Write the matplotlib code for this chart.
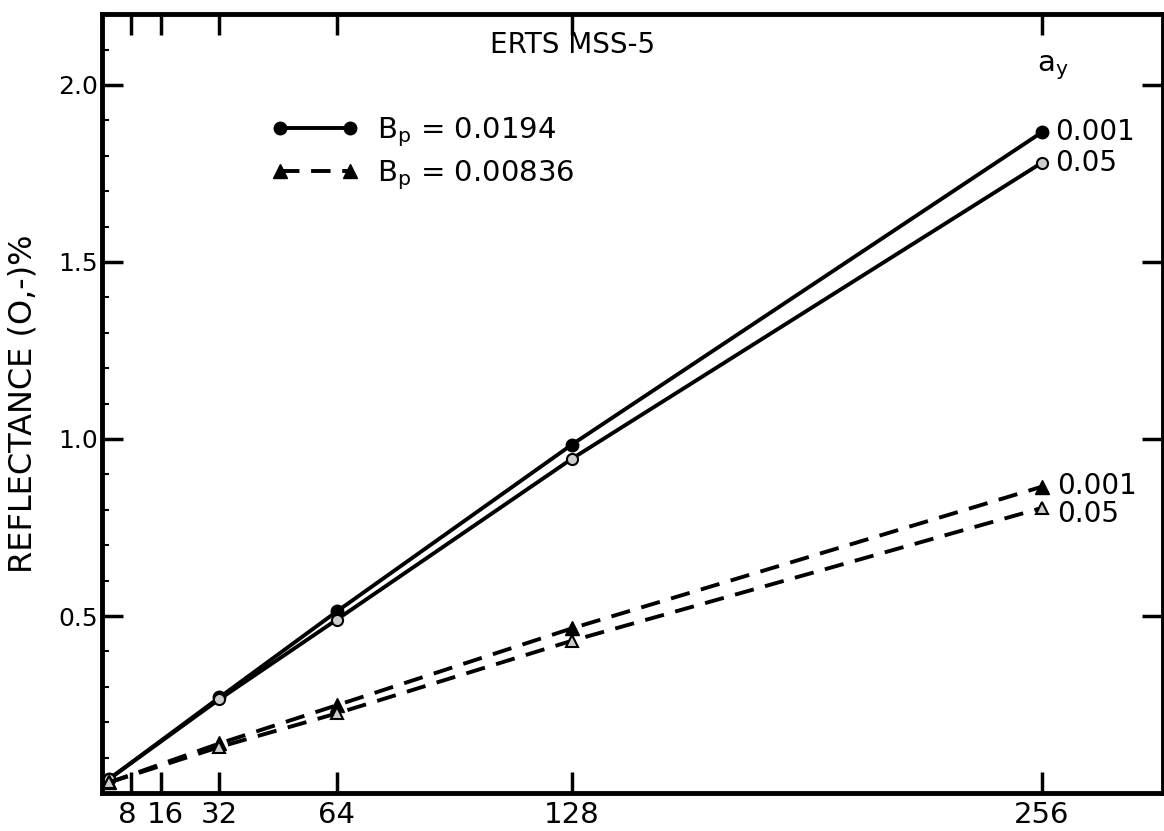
import matplotlib.pyplot as plt
import matplotlib.transforms as mtransforms
import numpy as np

# data
x = [2, 32, 64, 128, 256]
solid_001 = [0.04, 0.27, 0.513, 0.984, 1.866]
solid_05 = [0.04, 0.265, 0.49, 0.944, 1.78]
dash_001 = [0.03, 0.14, 0.248, 0.465, 0.865]
dash_05 = [0.03, 0.13, 0.225, 0.43, 0.805]
ay_labels = ['0.001', '0.05']
xticks = [8, 16, 32, 64, 128, 256]
yticks = [0.5, 1.0, 1.5, 2.0]

plt.rcParams['font.family'] = 'DejaVu Sans'

fig = plt.figure(figsize=(11.64, 8.31), dpi=100)
ax = fig.add_axes([0.0876, 0.0457, 0.9114, 0.9373])

lw = 2.8
l1, = ax.plot(x, solid_001, '-', color='k', lw=lw, marker='o', ms=9,
              mfc='k', mec='k')
ax.plot(x, solid_05, '-', color='k', lw=lw, marker='o', ms=8,
        mfc='0.8', mec='k', mew=1.5)
l2, = ax.plot(x, dash_001, '--', color='k', lw=lw, dashes=(5, 3),
              marker='^', ms=10, mfc='k', mec='k')
ax.plot(x, dash_05, '--', color='k', lw=lw, dashes=(5, 3),
        marker='^', ms=9, mfc='0.8', mec='k', mew=1.5)

# a_y labels next to the last points
ax.annotate(ay_labels[0], (x[-1], solid_001[-1]), xytext=(13, 0),
            textcoords='offset pixels', va='center', fontsize=20)
ax.annotate(ay_labels[1], (x[-1], solid_05[-1]), xytext=(13, 0),
            textcoords='offset pixels', va='center', fontsize=20)
ax.annotate(ay_labels[0], (x[-1], dash_001[-1]), xytext=(15, 1),
            textcoords='offset pixels', va='center', fontsize=20)
ax.annotate(ay_labels[1], (x[-1], dash_05[-1]), xytext=(15, -6),
            textcoords='offset pixels', va='center', fontsize=20)
ax.text(259, 2.05, r'a$_\mathregular{y}$', ha='center', va='center', fontsize=21)

ax.text(0.444, 0.96, 'ERTS MSS-5', transform=ax.transAxes, ha='center',
        va='center', fontsize=20)

leg = ax.legend([l1, l2], [r'B$_\mathregular{p}$ = 0.0194', r'B$_\mathregular{p}$ = 0.00836'],
                loc='upper left', bbox_to_anchor=(0.16, 0.87), frameon=False,
                fontsize=21, numpoints=2, handlelength=3.0, handletextpad=0.6,
                borderpad=0, borderaxespad=0, labelspacing=0.32)

ax.set_xlim(0, 289)
ax.set_ylim(0, 2.2)
ax.set_xticks(xticks)
ax.set_xticklabels([str(t) for t in xticks], fontsize=21)
ax.set_yticks(yticks)
ax.set_yticklabels(['0.5', '1.0', '1.5', '2.0'], fontsize=18)
ax.set_yticks(np.arange(0.1, 2.2, 0.1), minor=True)
ax.tick_params(axis='both', which='major', direction='in', length=15, width=2.5,
               top=True, right=True, pad=6)
ax.tick_params(axis='y', which='major', pad=3)
ax.tick_params(axis='y', which='minor', direction='in', length=5, width=1.5)
for s in ax.spines.values():
    s.set_linewidth(3.5)

# pull "8" and "16" apart a little so they don't run together
xl = ax.get_xticklabels()
xl[0].set_transform(xl[0].get_transform() + mtransforms.ScaledTranslation(-4 / 100, 0, fig.dpi_scale_trans))
xl[1].set_transform(xl[1].get_transform() + mtransforms.ScaledTranslation(5 / 100, 0, fig.dpi_scale_trans))

ax.set_ylabel('REFLECTANCE (O,-)%', fontsize=23, labelpad=14)

plt.savefig('out.png', dpi=100)
